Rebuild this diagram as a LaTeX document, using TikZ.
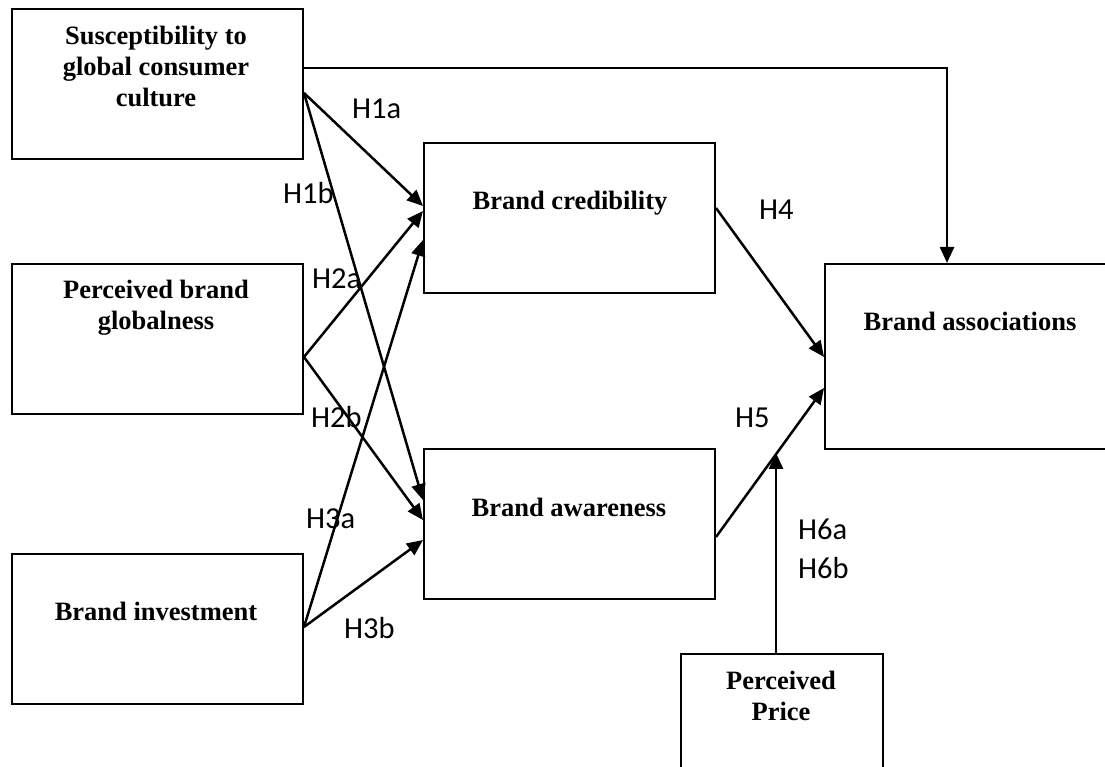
\documentclass[tikz,border=0pt]{standalone}
\usepackage{fontspec}
\setmainfont{Liberation Serif}
\newfontfamily\calib{Carlito}
\usetikzlibrary{arrows.meta,calc}
\begin{document}
\begin{tikzpicture}[x=1pt,y=-1pt,
  box/.style={draw,line width=2pt,anchor=north west,inner sep=0pt},
  ttl/.style={font=\bfseries\fontsize{26.5}{31}\selectfont,align=center,inner sep=0pt},
  hyp/.style={font=\calib\fontsize{30.5}{38}\selectfont,inner sep=0pt,anchor=base west},
  arr/.style={line width=2.5pt,-{Triangle[length=16pt,width=14pt]}}]
\useasboundingbox (0,0) rectangle (1105,767);
\clip (0,0) rectangle (1105,767);
% boxes
\node[box,minimum width=291pt,minimum height=150pt] (sgcc) at (11,8) {};
\node[box,minimum width=291pt,minimum height=150pt] (pbg) at (11,263) {};
\node[box,minimum width=291pt,minimum height=150pt] (bi) at (11,553) {};
\node[box,minimum width=291pt,minimum height=150pt] (bc) at (423,142) {};
\node[box,minimum width=291pt,minimum height=150pt] (ba) at (423,448) {};
\node[box,minimum width=300pt,minimum height=185pt] (bas) at (824,263) {};
\node[box,minimum width=202pt,minimum height=140pt] (pp) at (680,653) {};
% titles
\node[ttl] (t1) at (156,66) {Susceptibility to\\global consumer\\culture};
\node[ttl] (t2) at (156,308) {Perceived brand\\globalness};
\node[ttl] (t3) at (156,611) {Brand investment};
\node[ttl] (t4) at (570,203) {Brand credibility};
\node[ttl] (t5) at (569,507) {Brand awareness};
\node[ttl] (t6) at (970,321) {Brand associations};
\node[ttl] (t7) at (781,696) {Perceived\\Price};
% connection points
\coordinate (s0) at ($(sgcc.north east)+(0,60)$);
\coordinate (s1) at ($(sgcc.north east)+(0,85)$);
\coordinate (g1) at ($(pbg.north east)+(0,94)$);
\coordinate (i1) at ($(bi.north east)+(0,74)$);
\coordinate (cin1) at ($(bc.north west)+(0,64)$);
\coordinate (cin2) at ($(bc.north west)+(0,69)$);
\coordinate (cin3) at ($(bc.north west)+(0,98)$);
\coordinate (ain1) at ($(ba.north west)+(0,52)$);
\coordinate (ain2) at ($(ba.north west)+(0,72)$);
\coordinate (ain3) at ($(ba.north west)+(0,92)$);
\coordinate (cout) at ($(bc.north east)+(0,66)$);
\coordinate (aout) at ($(ba.north east)+(0,89)$);
\coordinate (asin1) at ($(bas.north west)+(0,94)$);
\coordinate (asin2) at ($(bas.north west)+(0,125)$);
\coordinate (astop) at ($(bas.north west)+(123,0)$);
\coordinate (pptop) at ($(pp.north west)+(96,0)$);
\coordinate (mid5) at ($(aout)!0.564!(asin2)$);
% connectors
\draw[arr] (s1) -- (cin1);
\draw[arr] (s1) -- (ain1);
\draw[arr] (g1) -- (cin2);
\draw[arr] (g1) -- (ain2);
\draw[arr] (i1) -- (cin3);
\draw[arr] (i1) -- (ain3);
\draw[arr] (cout) -- (asin1);
\draw[arr] (aout) -- (asin2);
\draw[arr] (s0) -| (astop);
\draw[arr] (pptop) -- (pptop |- mid5);
% labels
\node[hyp] (h1a) at (352,119) {H1a};
\node[hyp] (h1b) at (283,204) {H1b};
\node[hyp] (h2a) at (312,288) {H2a};
\node[hyp] (h2b) at (311,427) {H2b};
\node[hyp] (h3a) at (306,528) {H3a};
\node[hyp] (h3b) at (344,638) {H3b};
\node[hyp] (h4) at (759,220) {H4};
\node[hyp] (h5) at (735,427) {H5};
\node[hyp] (h6a) at (798,539) {H6a};
\node[hyp] (h6b) at (798,578) {H6b};
\end{tikzpicture}
\end{document}
